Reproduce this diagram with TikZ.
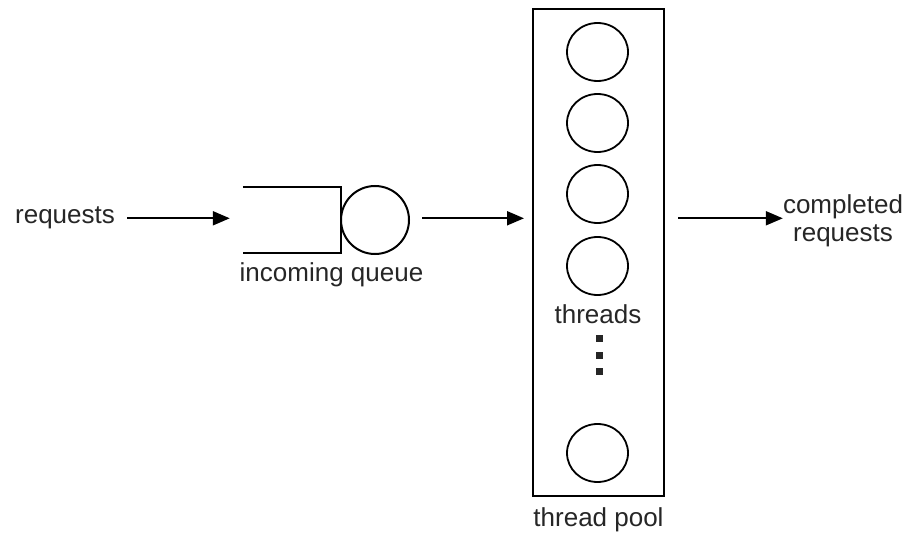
\documentclass[tikz,border=0pt]{standalone}
\usepackage{fontspec}
\setmainfont{Liberation Sans}
\usetikzlibrary{arrows.meta,shapes.geometric}
\begin{document}
\begin{tikzpicture}[x=1pt,y=-1pt,
  lbl/.style={font=\fontsize{26}{28}\selectfont, inner sep=0pt, text=black!85},
  arr/.style={line width=2pt,-{Triangle[length=17pt,width=14pt]}},
  thread/.style={draw,line width=1.8pt,ellipse,minimum width=61pt,minimum height=58pt,inner sep=0pt},
  dot/.style={fill=black!85,minimum size=7pt,inner sep=0pt},
  box/.style={line width=2pt}]
\useasboundingbox[fill=white] (0,0) rectangle (909,534);
% left part
\node[lbl,anchor=base] (req) at (65,224) {requests};
\node[minimum width=98pt,minimum height=66pt,inner sep=0pt] (queue) at (292,220) {};
\draw[box] (queue.north west) -- (queue.north east) -- (queue.south east) -- (queue.south west);
\node[circle,draw,line width=2pt,minimum size=68pt,inner sep=0pt] (qc) at (375,220) {};
\node[lbl,anchor=base] (inq) at (331.5,281) {incoming queue};
% thread pool
\node[draw,line width=2pt,minimum width=131pt,minimum height=487pt,inner sep=0pt] (pool) at (598.5,252.5) {};
\node[thread] (t1) at (597.5,52) {};
\node[thread] (t2) at (597.5,123) {};
\node[thread] (t3) at (597.5,194) {};
\node[thread] (t4) at (597.5,266) {};
\node[thread] (t5) at (597.5,453) {};
\node[lbl,anchor=base] (thr) at (598,323) {threads};
\node[dot] (d1) at (599,338) {};
\node[dot] (d2) at (599,355) {};
\node[dot] (d3) at (599,371) {};
\node[lbl,anchor=base] (tp) at (598.5,526) {thread pool};
% output
\node[lbl,align=center] (done) at (843,220.5) {completed\\requests};
% arrows
\draw[arr] ([xshift=12pt]req.east) -- ([xshift=-13pt]req.east -| queue.west);
\draw[arr] ([xshift=12pt]qc.east |- req.east) -- ([xshift=-8pt]pool.west |- req.east);
\draw[arr] ([xshift=13pt]pool.east |- req.east) -- (done.west |- req.east);
\end{tikzpicture}
\end{document}
